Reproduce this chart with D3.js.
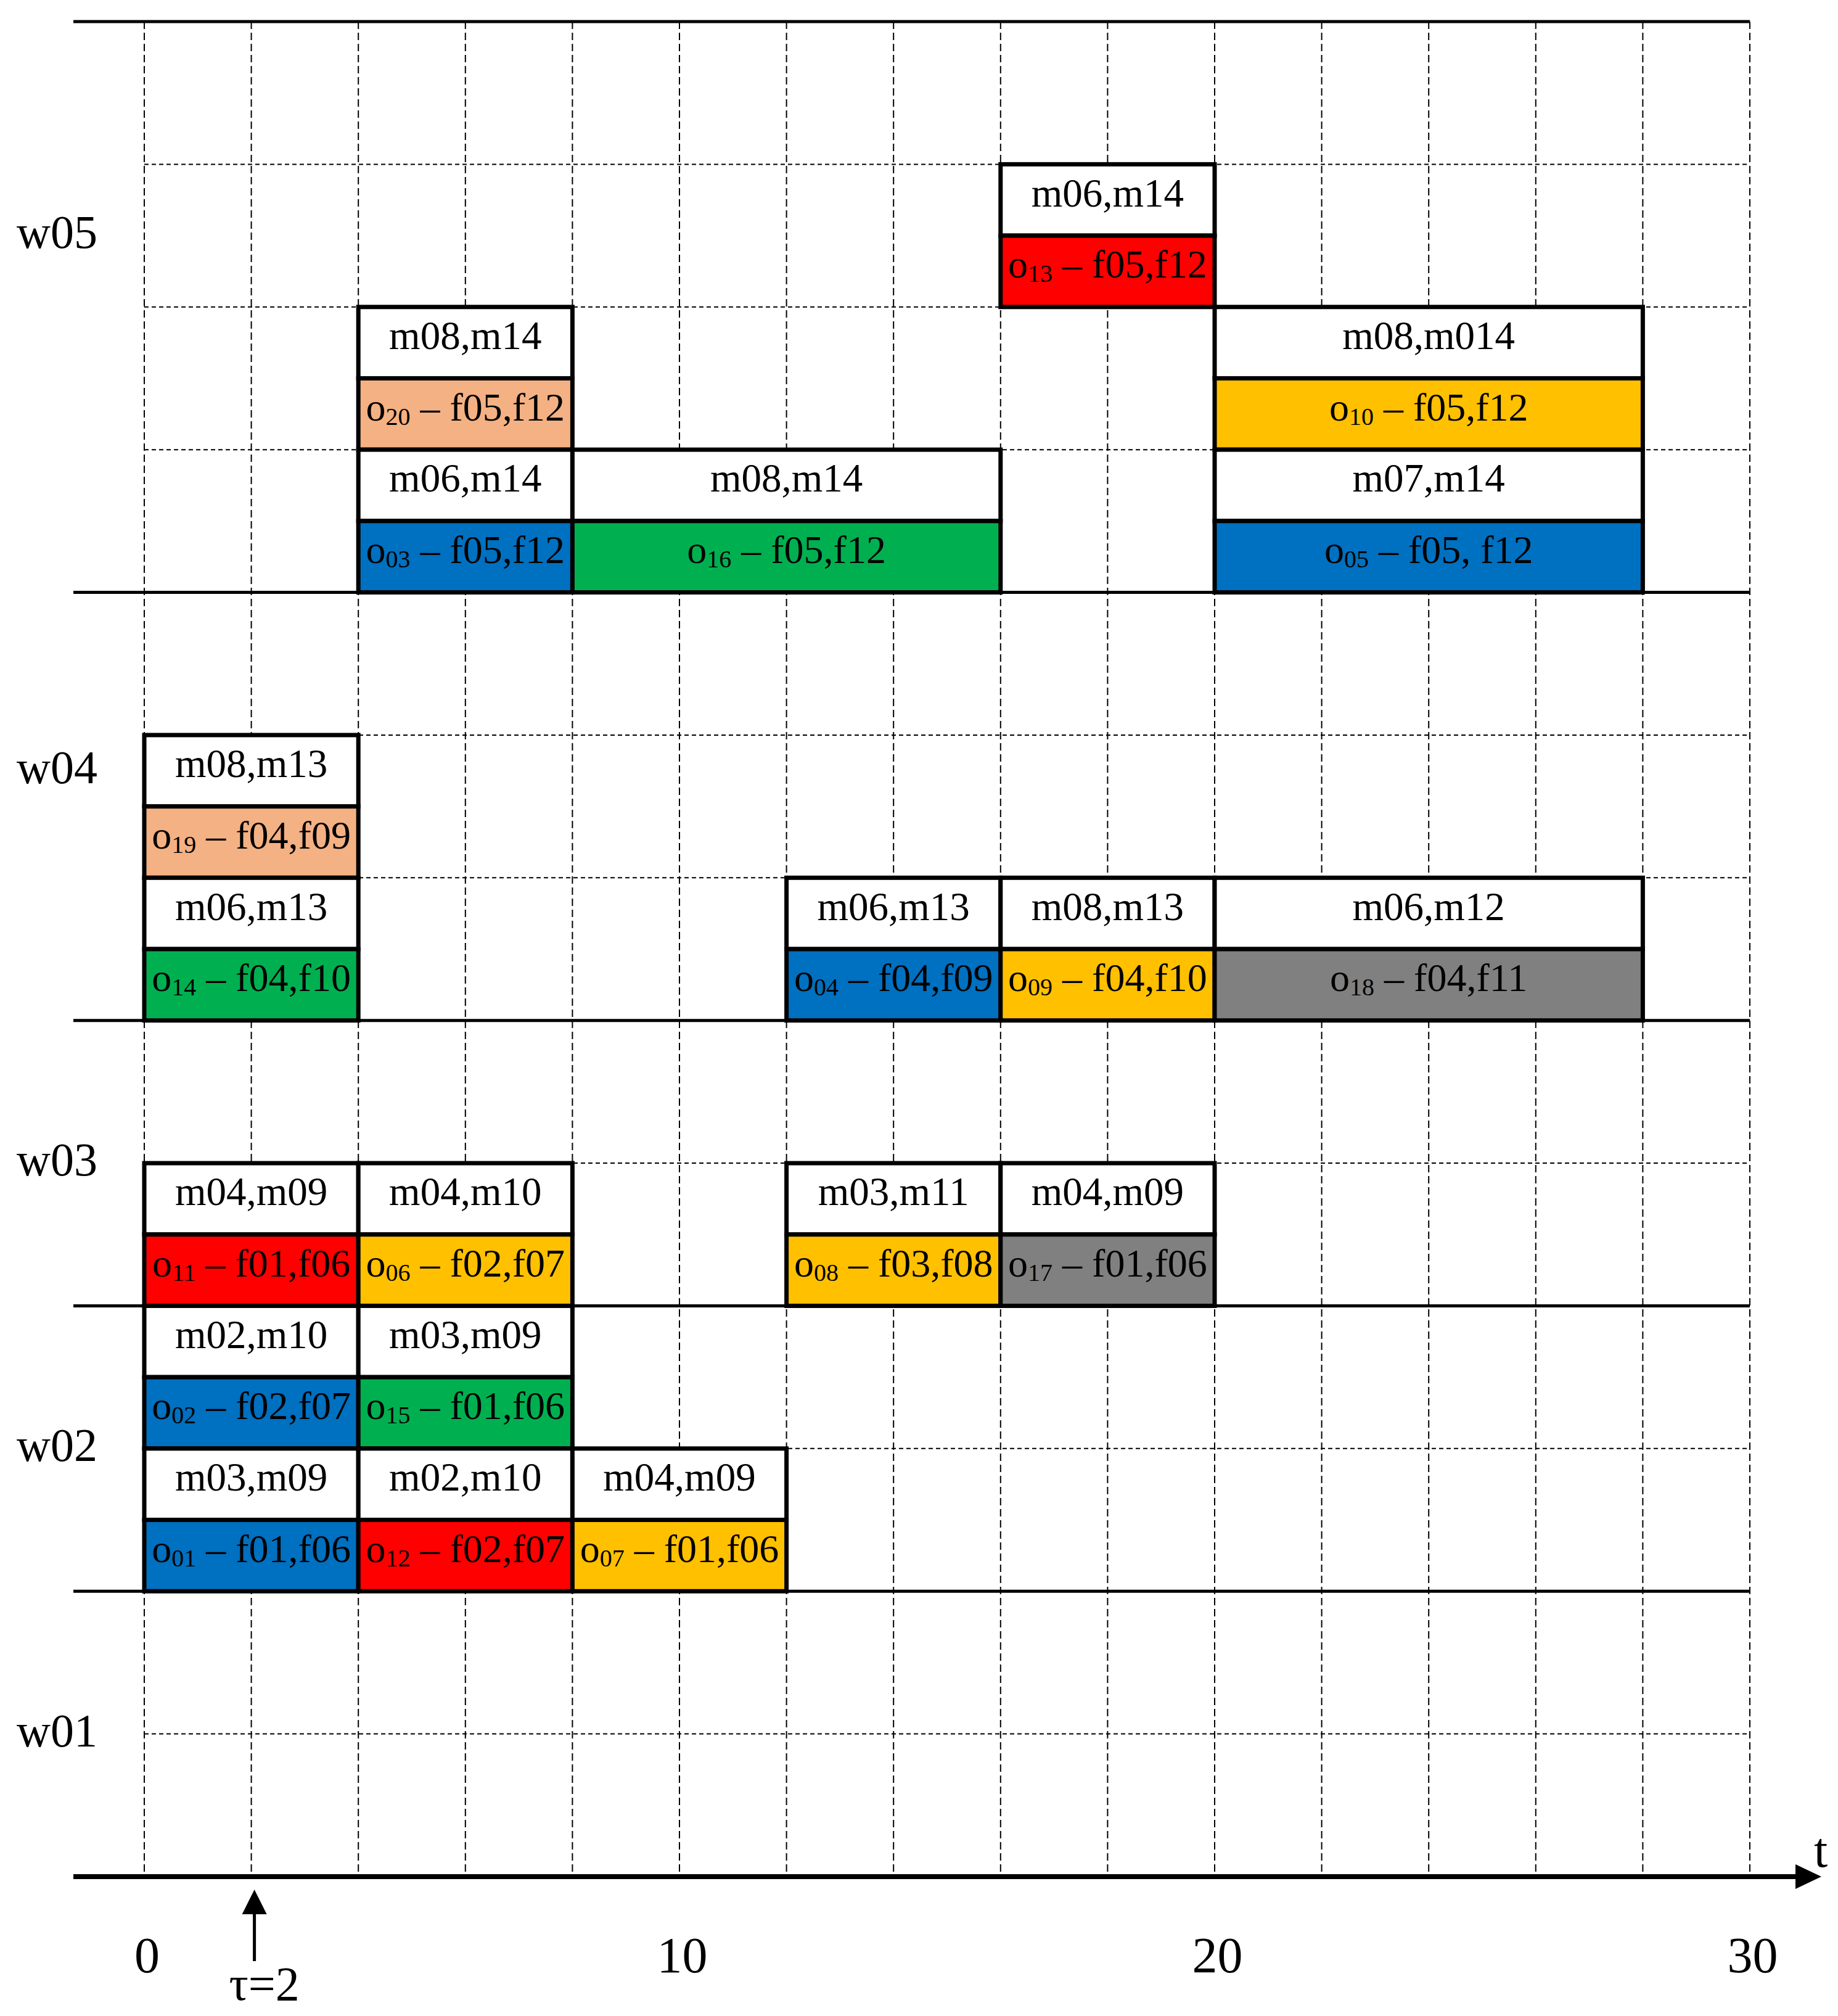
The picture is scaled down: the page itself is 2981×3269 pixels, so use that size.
<!DOCTYPE html>
<html>
<head>
<meta charset="utf-8">
<script src="https://cdn.jsdelivr.net/npm/d3@7"></script>
<style>
  body { margin: 0; background: #fff; }
  text { font-family: "Liberation Serif", "Times New Roman", serif; fill: #000; }
</style>
</head>
<body>
<div class="gantt"></div>
<script>
// workers, from the time axis upwards
var workers = ["w01", "w02", "w03", "w04", "w05"];
var workerRows = [2, 2, 2, 3, 4];             // rows used by each worker
var workerLabelPos = [1, 3, 5, 7.75, 11.5];   // label height, in rows

var timeTicks = [0, 10, 20, 30];
var tau = 2;

// operations (row = 0 at the time axis)
var opIds      = ["20", "03", "16", "13", "10", "05", "19", "14", "04", "09", "18", "11", "06", "08", "17", "02", "15", "01", "12", "07"];
var opRow      = [10, 9, 9, 11, 10, 9, 7, 6, 6, 6, 6, 4, 4, 4, 4, 3, 3, 2, 2, 2];
var opStart    = [4, 4, 8, 16, 20, 20, 0, 0, 12, 16, 20, 0, 4, 12, 16, 0, 4, 0, 4, 8];
var opEnd      = [8, 8, 16, 20, 28, 28, 4, 4, 16, 20, 28, 4, 8, 16, 20, 4, 8, 4, 8, 12];
var opMachines = ["m08,m14", "m06,m14", "m08,m14", "m06,m14", "m08,m014", "m07,m14",
                  "m08,m13", "m06,m13", "m06,m13", "m08,m13", "m06,m12",
                  "m04,m09", "m04,m10", "m03,m11", "m04,m09",
                  "m02,m10", "m03,m09", "m03,m09", "m02,m10", "m04,m09"];
var opFeatures = ["f05,f12", "f05,f12", "f05,f12", "f05,f12", "f05,f12", "f05, f12",
                  "f04,f09", "f04,f10", "f04,f09", "f04,f10", "f04,f11",
                  "f01,f06", "f02,f07", "f03,f08", "f01,f06",
                  "f02,f07", "f01,f06", "f01,f06", "f02,f07", "f01,f06"];
var opColor    = ["#F4B183", "#0070C0", "#00B050", "#FF0000", "#FFC000", "#0070C0",
                  "#F4B183", "#00B050", "#0070C0", "#FFC000", "#808080",
                  "#FF0000", "#FFC000", "#FFC000", "#808080",
                  "#0070C0", "#00B050", "#0070C0", "#FF0000", "#FFC000"];

var width = 2981, height = 3269;
var totalRows = d3.sum(workerRows);
var leftEdge = 119;

var x = d3.scaleLinear().domain([0, 30]).range([234, 2838]);
var y = d3.scaleLinear().domain([0, totalRows]).range([3043, 35]);

var svg = d3.select('.gantt')
    .append('svg')
    .attr('width', width)
    .attr('height', height);

// row boundaries: solid between workers, dashed inside
var solidRows = Array.from(d3.cumsum(workerRows));
var dashedRows = d3.range(1, totalRows).filter(r => solidRows.indexOf(r) < 0);

svg.append('g')
    .selectAll('line')
    .data(d3.range(0, 31, 2))
    .enter()
    .append('line')
    .attr('x1', d => x(d)).attr('x2', d => x(d))
    .attr('y1', y(totalRows)).attr('y2', y(0))
    .attr('stroke', '#000')
    .attr('stroke-width', 2)
    .attr('stroke-dasharray', '12,6');

svg.append('g')
    .selectAll('line')
    .data(dashedRows)
    .enter()
    .append('line')
    .attr('x1', x(0)).attr('x2', x(30))
    .attr('y1', d => y(d)).attr('y2', d => y(d))
    .attr('stroke', '#000')
    .attr('stroke-width', 2)
    .attr('stroke-dasharray', '7,5');

svg.append('g')
    .selectAll('line')
    .data(solidRows)
    .enter()
    .append('line')
    .attr('x1', leftEdge).attr('x2', x(30))
    .attr('y1', d => y(d)).attr('y2', d => y(d))
    .attr('stroke', '#000')
    .attr('stroke-width', 5);

// operation blocks
var ops = opIds.map((id, i) => ({
    id: id, row: opRow[i], start: opStart[i], end: opEnd[i],
    machines: opMachines[i], features: opFeatures[i], color: opColor[i]
}));

var block = svg.append('g')
    .selectAll('g')
    .data(ops)
    .enter()
    .append('g');

var half = (y(0) - y(1)) / 2;

block.append('rect')
    .attr('x', d => x(d.start))
    .attr('y', d => y(d.row + 1))
    .attr('width', d => x(d.end) - x(d.start))
    .attr('height', half)
    .attr('fill', '#fff')
    .attr('stroke', '#000')
    .attr('stroke-width', 7);

block.append('rect')
    .attr('x', d => x(d.start))
    .attr('y', d => y(d.row + 1) + half)
    .attr('width', d => x(d.end) - x(d.start))
    .attr('height', half)
    .attr('fill', d => d.color)
    .attr('stroke', '#000')
    .attr('stroke-width', 7);

block.append('text')
    .attr('x', d => (x(d.start) + x(d.end)) / 2)
    .attr('y', d => y(d.row + 1) + half * 0.59)
    .attr('text-anchor', 'middle')
    .attr('font-size', 65)
    .text(d => d.machines);

var opText = block.append('text')
    .attr('x', d => (x(d.start) + x(d.end)) / 2)
    .attr('y', d => y(d.row + 1) + half * 1.59)
    .attr('text-anchor', 'middle')
    .attr('font-size', 64);
opText.append('tspan').text('o');
opText.append('tspan')
    .attr('font-size', 40)
    .attr('dy', 7)
    .text(d => d.id);
opText.append('tspan')
    .attr('dy', -7)
    .text(d => ' \u2013 ' + d.features);

// worker labels
svg.append('g')
    .selectAll('text')
    .data(workers)
    .enter()
    .append('text')
    .attr('x', 27)
    .attr('y', (d, i) => y(workerLabelPos[i]) + 20)
    .attr('font-size', 76)
    .text(d => d);

// time axis
svg.append('line')
    .attr('x1', leftEdge).attr('x2', 2916)
    .attr('y1', y(0)).attr('y2', y(0))
    .attr('stroke', '#000')
    .attr('stroke-width', 8);
svg.append('path')
    .attr('d', `M2912,${y(0) - 20}L2954,${y(0)}L2912,${y(0) + 20}Z`)
    .attr('fill', '#000');
svg.append('text')
    .attr('x', 2953).attr('y', 3027)
    .attr('text-anchor', 'middle')
    .attr('font-size', 80)
    .text('t');

var axis = svg.append('g')
    .attr('transform', `translate(4, ${y(0)})`)
    .call(d3.axisBottom(x).tickValues(timeTicks).tickSize(0).tickPadding(97));
axis.select('.domain').remove();
axis.selectAll('text')
    .attr('font-size', 82)
    .attr('font-family', '"Liberation Serif", "Times New Roman", serif')
    .attr('fill', '#000');

// tau marker
var tx = x(tau) + 5;
svg.append('line')
    .attr('x1', tx).attr('x2', tx)
    .attr('y1', 3100).attr('y2', 3180)
    .attr('stroke', '#000')
    .attr('stroke-width', 5);
svg.append('path')
    .attr('d', `M${tx - 20},3104L${tx},3064L${tx + 20},3104Z`)
    .attr('fill', '#000');
svg.append('text')
    .attr('x', tx + 16).attr('y', 3243)
    .attr('text-anchor', 'middle')
    .attr('font-size', 78)
    .text('\u03c4=' + tau);
</script>
</body>
</html>
